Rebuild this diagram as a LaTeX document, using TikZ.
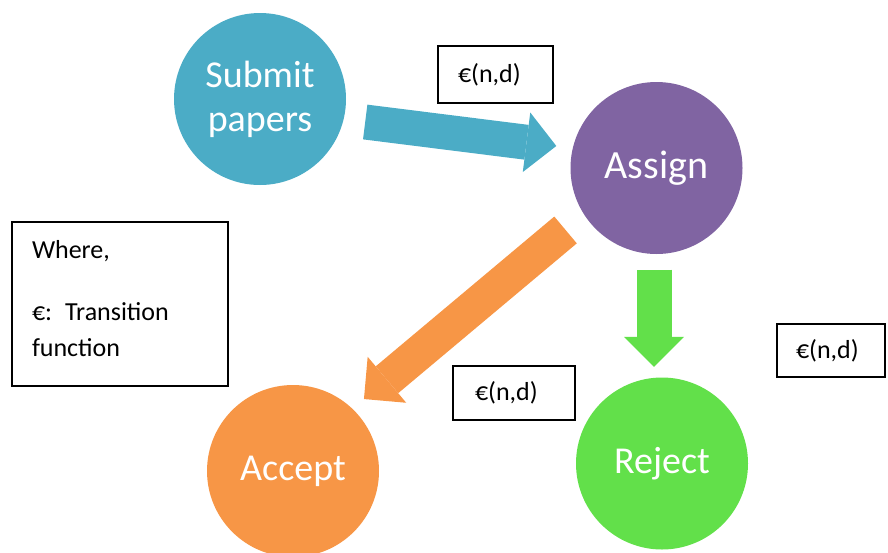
\documentclass[tikz,border=0pt]{standalone}
\usepackage{fontspec}
\setmainfont{Carlito}
\usetikzlibrary{arrows.meta,calc}
\definecolor{submitblue}{HTML}{4BACC6}
\definecolor{assignpurple}{HTML}{8064A2}
\definecolor{acceptorange}{HTML}{F79646}
\definecolor{rejectgreen}{HTML}{62E04A}
\begin{document}
\begin{tikzpicture}[x=1pt,y=-1pt,
  state/.style={circle, draw=none, minimum size=172pt, inner sep=0pt, text=white, align=center, font=\fontsize{38}{44}\selectfont},
  fnbox/.style={draw=black, line width=1.5pt, align=left, inner ysep=0pt, font=\fontsize{26}{36}\selectfont},
  bigarrow/.style={line width=35pt, -{Triangle[length=30pt, width=60pt, line width=0pt]}}]
\useasboundingbox (0,0) rectangle (888,552);
% states
\node [state, fill=submitblue] (submit) at (260,99) {Submit\\papers};
\node [state, fill=assignpurple, font=\fontsize{40}{48}\selectfont] (assign) at (656.5,168) {Assign};
\node [state, fill=acceptorange] (accept) at (293,471) {Accept};
\node [state, fill=rejectgreen] (reject) at (662,463.5) {Reject};
% transitions
\draw [bigarrow, submitblue] ($(submit.east)+(19,23)$) -- ($(assign.west)+(-14,-22)$);
\draw [bigarrow, acceptorange] ($(assign.south west)+(-30,1)$) -- ($(accept.north east)+(10,-11)$);
\draw [bigarrow, rejectgreen] ($(assign.south)+(-2.5,15.5)$) -- ($(reject.north)+(-8,-10.5)$);
% labels
\node [fnbox, text width=75pt, inner xsep=20pt, minimum height=57pt] (fnassign) at (495.5,74.5) {€(n,d)};
\node [fnbox, text width=78pt, inner xsep=22pt, minimum height=54pt] (fnaccept) at (514,393) {€(n,d)};
\node [fnbox, text width=70pt, inner xsep=19pt, minimum height=53pt] (fnreject) at (831,350.5) {€(n,d)};
\node [fnbox, text width=176pt, inner xsep=20pt, minimum height=164pt, text depth=109pt] (where) at (120,304) {Where,\\[26pt]€: Transition\\function};
\end{tikzpicture}
\end{document}
